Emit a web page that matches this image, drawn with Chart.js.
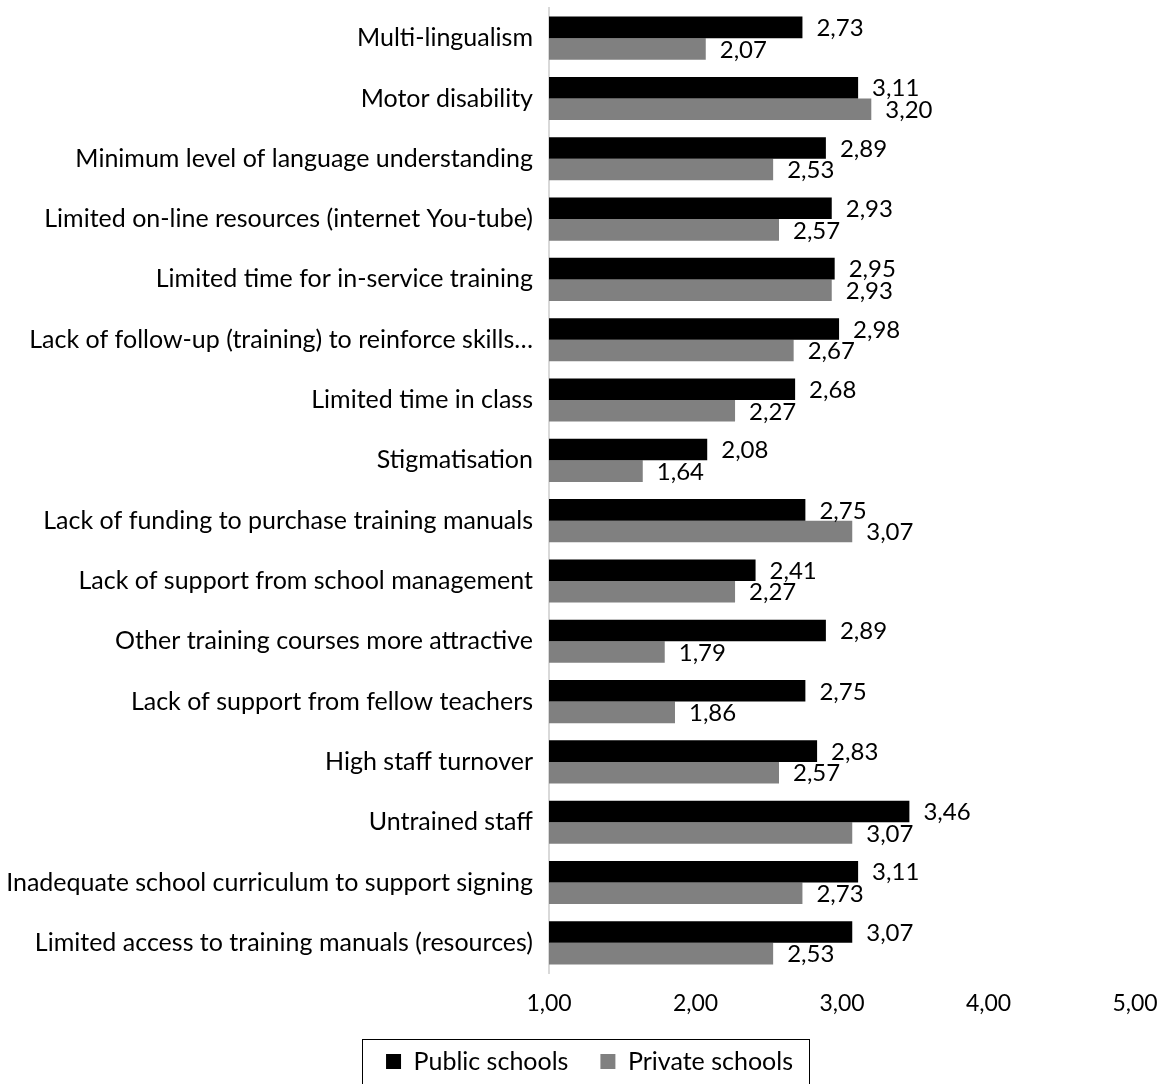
<!DOCTYPE html>
<html>
<head>
<meta charset="utf-8">
<script src="https://cdn.jsdelivr.net/npm/chart.js@4.4.1/dist/chart.umd.min.js"></script>
<style>
  html, body { margin: 0; padding: 0; background: #fff; }
  #wrap { width: 1162px; height: 1084px; position: relative; }
</style>
</head>
<body>
<div id="wrap"><canvas id="barriers"></canvas></div>
<script>
const categories = [
  "Multi-lingualism",
  "Motor disability",
  "Minimum level of language understanding",
  "Limited on-line resources (internet You-tube)",
  "Limited time for in-service training",
  "Lack of follow-up (training) to reinforce skills\u2026",
  "Limited time in class",
  "Stigmatisation",
  "Lack of funding to purchase training manuals",
  "Lack of support from school management",
  "Other training courses more attractive",
  "Lack of support from fellow teachers",
  "High staff turnover",
  "Untrained staff",
  "Inadequate school curriculum to support signing",
  "Limited access to training manuals (resources)"
];

const publicSchools = [2.73, 3.11, 2.89, 2.93, 2.95, 2.98, 2.68, 2.08, 2.75, 2.41, 2.89, 2.75, 2.83, 3.46, 3.11, 3.07];
const privateSchools = [2.07, 3.20, 2.53, 2.57, 2.93, 2.67, 2.27, 1.64, 3.07, 2.27, 1.79, 1.86, 2.57, 3.07, 2.73, 2.53];

const xTicks = [1, 2, 3, 4, 5];

const FONT = "Lato, 'Noto Sans', sans-serif";
const LEGEND_SHIFT = 22;

function fmt(v) {
  return v.toFixed(2).replace('.', ',');
}

// value labels at the end of each bar
const valueLabels = {
  id: 'valueLabels',
  afterDatasetsDraw(chart) {
    const ctx = chart.ctx;
    ctx.save();
    ctx.font = "24px " + FONT;
    ctx.fillStyle = '#000';
    ctx.textAlign = 'left';
    ctx.textBaseline = 'middle';
    chart.data.datasets.forEach((ds, i) => {
      chart.getDatasetMeta(i).data.forEach((bar, j) => {
        ctx.fillText(fmt(ds.data[j]), bar.x + 14, bar.y + 1);
      });
    });
    ctx.restore();
  }
};

// nudge the legend right a little and frame it
const legendFrame = {
  id: 'legendFrame',
  afterLayout(chart) {
    const lg = chart.legend;
    lg.left += LEGEND_SHIFT;
    lg.right += LEGEND_SHIFT;
    (lg.legendHitBoxes || []).forEach(b => { b.left += LEGEND_SHIFT; });
  },
  afterDraw(chart) {
    const boxes = chart.legend.legendHitBoxes;
    if (!boxes || !boxes.length) return;
    const first = boxes[0];
    const last = boxes[boxes.length - 1];
    const ctx = chart.ctx;
    ctx.save();
    ctx.strokeStyle = '#000';
    ctx.lineWidth = 1;
    const left = Math.round(first.left - 24) + 0.5;
    const right = Math.round(last.left + last.width + 16) + 0.5;
    const top = Math.round(first.top - 10) + 0.5;
    ctx.strokeRect(left, top, right - left, chart.height + 10 - top);
    ctx.restore();
  }
};

new Chart(document.getElementById('barriers'), {
  type: 'bar',
  data: {
    labels: categories,
    datasets: [
      {
        label: 'Public schools',
        data: publicSchools,
        backgroundColor: '#000000',
        categoryPercentage: 0.715,
        barPercentage: 1.0
      },
      {
        label: 'Private schools',
        data: privateSchools,
        backgroundColor: '#808080',
        categoryPercentage: 0.715,
        barPercentage: 1.0
      }
    ]
  },
  options: {
    indexAxis: 'y',
    responsive: true,
    maintainAspectRatio: false,
    animation: false,
    layout: { padding: { top: 8, right: 27, left: 0, bottom: 0 } },
    scales: {
      x: {
        min: 1,
        max: 5,
        afterBuildTicks(scale) {
          scale.ticks = xTicks.map(v => ({ value: v }));
        },
        grid: { display: false, drawTicks: false },
        border: { display: false },
        ticks: {
          color: '#000',
          font: { family: FONT, size: 23 },
          padding: 17,
          callback: v => fmt(v)
        },
        afterFit(scale) {
          scale.height = 44;
          scale.paddingLeft = 0;
          scale.paddingRight = 0;
        }
      },
      y: {
        grid: { display: false, drawTicks: false },
        border: { display: true, color: '#d9d9d9', width: 2 },
        ticks: {
          color: '#000',
          font: { family: FONT, size: 25 },
          padding: 16,
          autoSkip: false
        },
        afterFit(scale) {
          scale.width = 549;
          scale.paddingTop = 0;
          scale.paddingBottom = 0;
        }
      }
    },
    plugins: {
      legend: {
        position: 'bottom',
        labels: {
          color: '#000',
          font: { family: FONT, size: 25 },
          boxWidth: 15,
          boxHeight: 15,
          padding: 32
        }
      },
      tooltip: { enabled: false }
    }
  },
  plugins: [valueLabels, legendFrame]
});
</script>
</body>
</html>
